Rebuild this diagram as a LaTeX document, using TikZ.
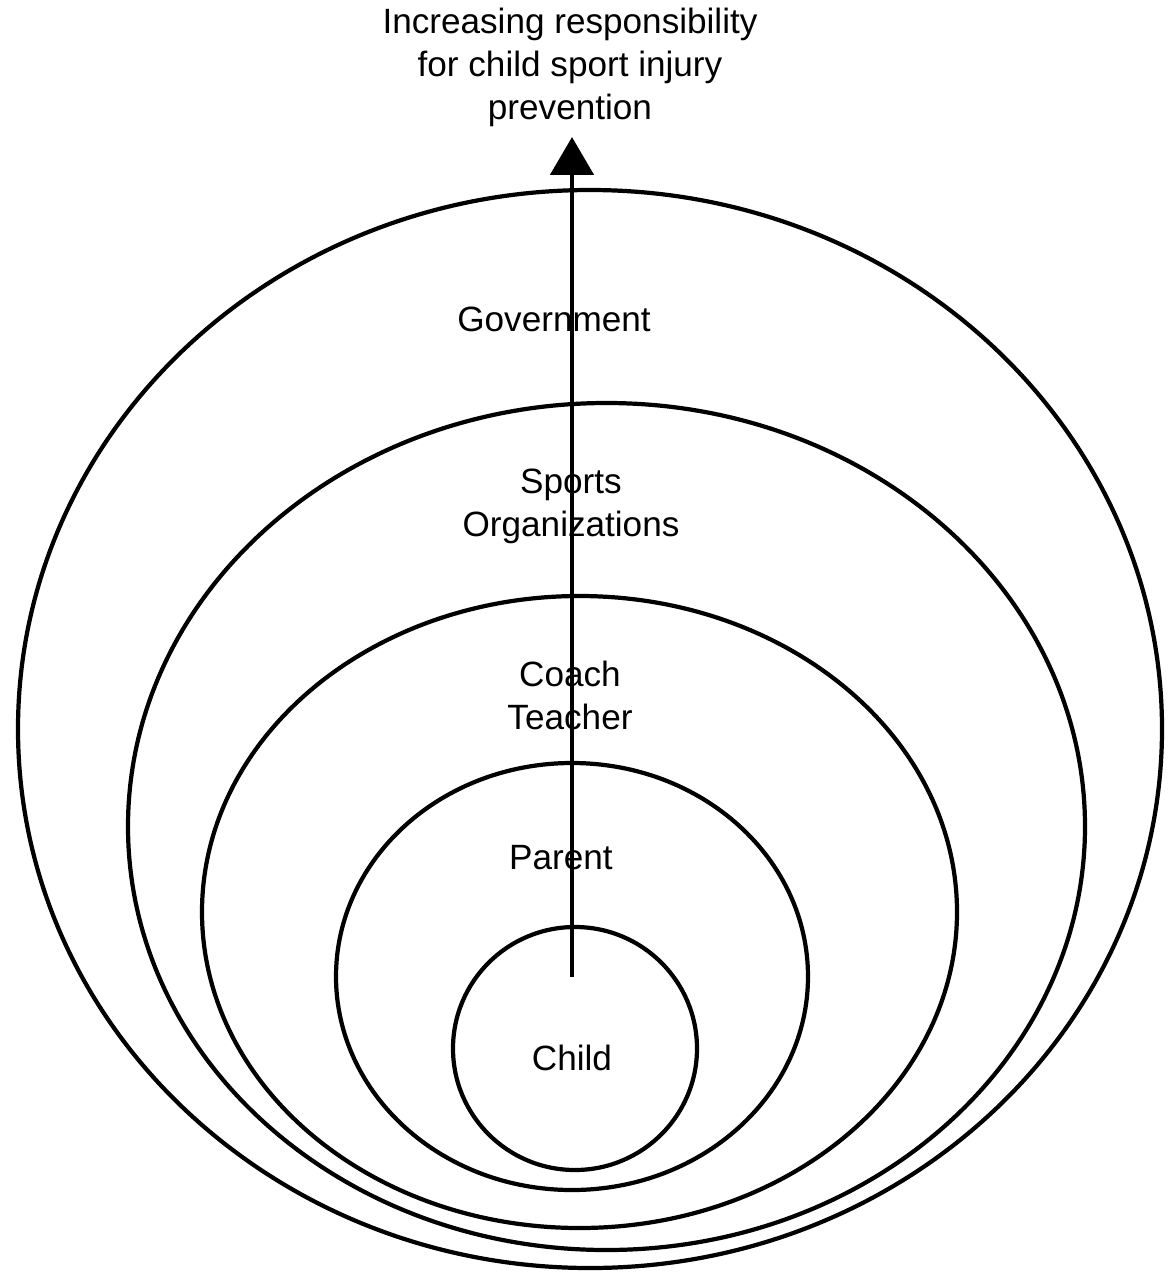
\documentclass[tikz,border=0pt]{standalone}
\usepackage{fontspec}
\setmainfont{Liberation Sans}
\usetikzlibrary{arrows.meta}
\tikzset{
  ring/.style={line width=2.4pt},
  lbl/.style={align=center,font=\fontsize{20}{24.5}\selectfont,inner sep=0pt}
}
\begin{document}
\begin{tikzpicture}[x=0.02cm,y=-0.02cm]
      \useasboundingbox (0,0) rectangle (1174,1272);
      % nested rings, outermost first
      \draw[ring] (590,729) ellipse [x radius=572, y radius=539];
      \draw[ring] (606.5,826.5) ellipse [x radius=478.5, y radius=423.5];
      \draw[ring] (579.5,912) ellipse [x radius=377.5, y radius=316];
      \draw[ring] (572,976.5) ellipse [x radius=236, y radius=213.5];
      \draw[ring] (575,1048.5) ellipse [x radius=122, y radius=121.5];
      % labels
      \node[lbl] (title) at (570,67) {Increasing responsibility\\for child sport injury\\prevention};
      \node[lbl] (gov) at (554,319) {Government};
      \node[lbl] (sport) at (571,506) {Sports\\Organizations};
      \node[lbl] (coach) at (570,695) {Coach\\Teacher};
      \node[lbl] (parent) at (561,858) {Parent};
      \node[lbl] (child) at (572,1058) {Child};
      % arrow
      \coordinate (base) at (572,977);
      \coordinate (tip) at (572,137);
      \draw[line width=2.8pt,-{Triangle[width=0.86cm,length=0.76cm]}] (base) -- (tip);
\end{tikzpicture}
\end{document}
